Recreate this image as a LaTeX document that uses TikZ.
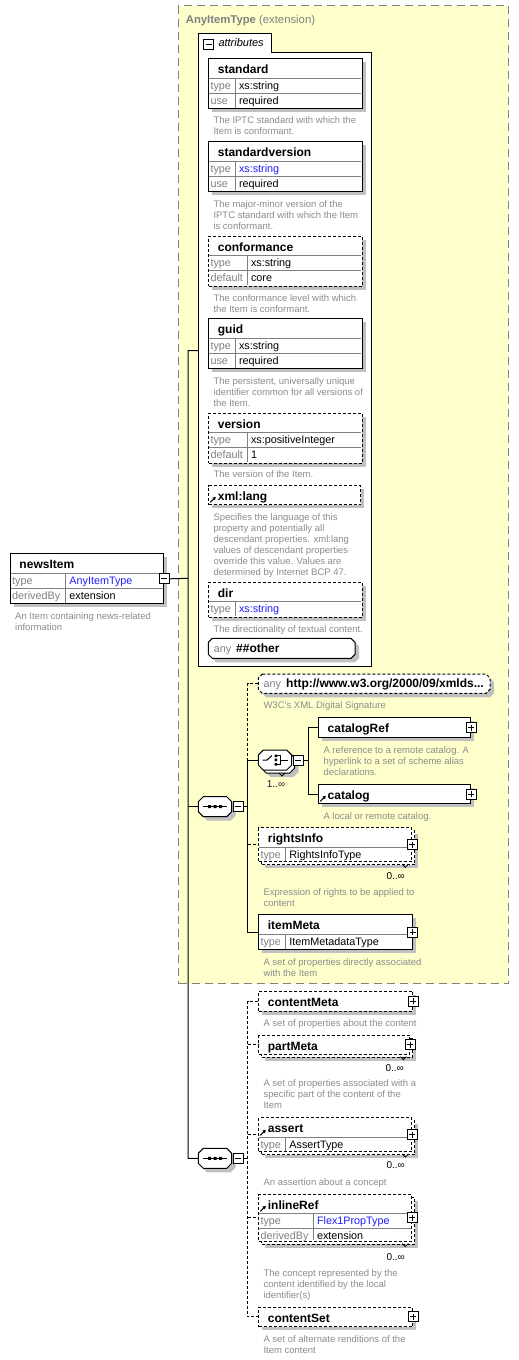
\documentclass[tikz,border=0pt]{standalone}
\usepackage{fontspec}
\setmainfont{Liberation Sans}
\usetikzlibrary{arrows.meta}
\definecolor{yel}{HTML}{FFFFCC}
\definecolor{shc}{HTML}{C0C0C0}
\definecolor{dgray}{HTML}{808080}
\definecolor{descc}{HTML}{8C8C8C}
\definecolor{lnk}{HTML}{1E1EFF}
\definecolor{occc}{HTML}{3C0A3C}
\newcommand\descfont{\fontsize{9.5}{11}\selectfont}
\newcommand\dstrut{\rule{0pt}{7.7pt}}
\tikzset{
  ebase/.style={anchor=north west, draw, fill=white, inner sep=0pt, line width=1pt},
  dsh/.style={dash pattern=on 3pt off 2pt},
  rowl/.style={draw=dgray, line width=1pt},
  ttl/.style={anchor=base west, inner sep=0pt, font=\fontsize{12}{14}\selectfont\bfseries},
  lbl/.style={anchor=base west, inner sep=0pt, font=\fontsize{10.8}{12}\selectfont, text=dgray},
  val/.style={anchor=base west, inner sep=0pt, font=\fontsize{10.8}{12}\selectfont},
  desc/.style={anchor=north west, inner sep=0pt, align=left, font=\descfont, text=descc},
  conn/.style={line width=1pt},
  opt/.style={line width=1pt, dash pattern=on 3pt off 2pt},
  pmbox/.style={draw, fill=white, line width=1pt, minimum size=10pt, inner sep=0pt},
  plus/.style={pmbox, path picture={\draw[line width=1pt] ([xshift=2pt]path picture bounding box.west) -- ([xshift=-2pt]path picture bounding box.east) ([yshift=-2pt]path picture bounding box.north) -- ([yshift=2pt]path picture bounding box.south);}},
  minus/.style={pmbox, path picture={\draw[line width=1pt] ([xshift=2pt]path picture bounding box.west) -- ([xshift=-2pt]path picture bounding box.east);}},
  occ/.style={anchor=base east, inner sep=0pt, font=\fontsize{10}{12}\selectfont},
  refarr/.style={line width=1pt, -{Triangle[length=3pt,width=3.5pt]}},
}
% element box with shadow
\newcommand\EB[6]{%
  \fill[shc] ({#2+4},{#3+4}) rectangle ({#4+4},{#5+4});
  \node[ebase,#6,minimum width={#4-#2},minimum height={#5-#3}] (#1) at (#2,#3) {};}
% stacked element box (multiple occurrences)
\newcommand\SB[6]{%
  \fill[shc] ({#2+7},{#3+7}) rectangle ({#4+7},{#5+7});
  \node[ebase,#6,minimum width={#4-#2},minimum height={#5-#3}] (#1b) at ({#2+3},{#3+3}) {};
  \node[ebase,#6,minimum width={#4-#2},minimum height={#5-#3}] (#1) at (#2,#3) {};
  \draw[line width=0.8pt] ({#4-9},{#5+3}) -- ({#4-6},{#5+6}) -- ({#4-3},{#5+3});}
% row
\newcommand\RW[8]{%
  \draw[rowl] ({#2+0.5},#5) -- ({#4-0.5},#5);
  \draw[rowl] (#3,#5) -- (#3,{#6-0.5});
  \node[lbl] (#1l) at ({#2+2},{#5+11}) {#7};
  \node[val] (#1v) at ({#3+3.5},{#5+11}) {#8};}
% octagon shadow
\newcommand\OSH[5]{%
  \fill[shc] ({#1+#5+4},{#2+4}) -- ({#3-#5+4},{#2+4}) -- ({#3+4},{#2+#5+4}) -- ({#3+4},{#4-#5+4}) -- ({#3-#5+4},{#4+4}) -- ({#1+#5+4},{#4+4}) -- ({#1+4},{#4-#5+4}) -- ({#1+4},{#2+#5+4}) -- cycle;}
% octagon with named node
\newcommand\OC[7]{%
  \draw[line width=1pt, fill=white, #7] ({#2+#6},#3) -- ({#4-#6},#3) -- (#4,{#3+#6}) -- (#4,{#5-#6}) -- ({#4-#6},#5) -- ({#2+#6},#5) -- (#2,{#5-#6}) -- (#2,{#3+#6}) -- cycle;
  \node[anchor=north west, inner sep=0pt, minimum width={#4-#2}, minimum height={#5-#3}] (#1) at (#2,#3) {};}
\begin{document}
\begin{tikzpicture}[x=1pt,y=-1pt]
\useasboundingbox (0,0) rectangle (519,1360);
\fill[white] (0,0) rectangle (519,1360);

% ---------- AnyItemType extension area
\node[anchor=north west, draw=dgray, fill=yel, line width=1pt, dash pattern=on 8pt off 5pt, inner sep=0pt, minimum width=330, minimum height=978] (anyT) at (178,5) {};
\node[anchor=base west, inner sep=0pt, font=\fontsize{11.3}{13}\selectfont, text=dgray] (anyTt) at (185.7,23.3) {\textbf{AnyItemType} (extension)};

% ---------- attributes container
\draw[line width=1pt, fill=white] (198,33.3) -- (271.7,33.3) -- (271.7,52.3) -- (371.7,52.3) -- (371.7,666) -- (198,666) -- cycle;
\node[anchor=north west, inner sep=0pt, minimum width=173.7, minimum height=613.7] (attrc) at (198,52.3) {};
\node[minus, anchor=north west] (attrm) at (203,39.3) {};
\node[anchor=base west, inner sep=0pt, font=\fontsize{11}{13}\selectfont\itshape] (attrt) at (218.3,46.7) {attributes};

% standard
\EB{standard}{208.3}{58.3}{361.7}{108.3}{}
\node[ttl] (standardt) at (217.7,73.8) {standard};
\RW{standardra}{208.3}{235.3}{361.7}{78.3}{93.3}{type}{xs:string}
\RW{standardrb}{208.3}{235.3}{361.7}{93.3}{108.3}{use}{required}
\node[desc] (standardd) at (213.3,115.8) {\dstrut The IPTC standard with which the\\Item is conformant.};

% standardversion
\EB{stdver}{208.3}{141.3}{361.7}{191.3}{}
\node[ttl] (stdvert) at (217.7,156.8) {standardversion};
\RW{stdverra}{208.3}{235.3}{361.7}{161.3}{176.3}{type}{\textcolor{lnk}{xs:string}}
\RW{stdverrb}{208.3}{235.3}{361.7}{176.3}{191.3}{use}{required}
\node[desc] (stdverd) at (213.3,199.6) {\dstrut The major-minor version of the\\IPTC standard with which the Item\\is conformant.};

% conformance
\EB{conf}{208.3}{235.7}{361.7}{285.7}{dsh}
\node[ttl] (conft) at (217.7,251.2) {conformance};
\RW{confra}{208.3}{247.3}{361.7}{255.7}{270.7}{type}{xs:string}
\RW{confrb}{208.3}{247.3}{361.7}{270.7}{285.7}{default}{core}
\node[desc] (confd) at (213.3,293.3) {\dstrut The conformance level with which\\the Item is conformant.};

% guid
\EB{guid}{208.3}{318.3}{361.7}{368.3}{}
\node[ttl] (guidt) at (217.7,333.8) {guid};
\RW{guidra}{208.3}{235.3}{361.7}{338.3}{353.3}{type}{xs:string}
\RW{guidrb}{208.3}{235.3}{361.7}{353.3}{368.3}{use}{required}
\node[desc] (guidd) at (213.3,376.3) {\dstrut The persistent, universally unique\\identifier common for all versions of\\the Item.};

% version
\EB{version}{208.3}{412.7}{361.7}{462.7}{dsh}
\node[ttl] (versiont) at (217.7,428.2) {version};
\RW{versionra}{208.3}{247.3}{361.7}{432.7}{447.7}{type}{xs:positiveInteger}
\RW{versionrb}{208.3}{247.3}{361.7}{447.7}{462.7}{default}{1}
\node[desc] (versiond) at (213.3,470) {\dstrut The version of the Item.};

% xml:lang
\EB{xmllang}{208.3}{485}{360}{504.3}{dsh}
\node[ttl] (xmllangt) at (217.7,500.5) {xml:lang};
\draw[refarr] (210.3,502.3) -- (215.8,496.8);
\node[desc] (xmllangd) at (213.3,512.3) {\dstrut Specifies the language of this\\property and potentially all\\descendant properties. xml:lang\\values of descendant properties\\override this value. Values are\\determined by Internet BCP 47.};

% dir
\EB{dir}{208.3}{581.7}{361.7}{616.7}{dsh}
\node[ttl] (dirt) at (217.7,597.2) {dir};
\RW{dirra}{208.3}{235.3}{361.7}{601.7}{616.7}{type}{\textcolor{lnk}{xs:string}}
\node[desc] (dird) at (213.3,624.3) {\dstrut The directionality of textual content.};

% any ##other
\OSH{208.3}{638.3}{355}{658.3}{4}
\OC{anyo}{208.3}{638.3}{355}{658.3}{4}{}
\node[lbl] (anyol) at (213.7,652) {any};
\node[ttl] (anyot) at (236,652.3) {\#\#other};

% ---------- newsItem
\EB{newsItem}{10}{553.3}{163.3}{603.3}{}
\node[ttl] (newsItemt) at (19.3,568.8) {newsItem};
\RW{nira}{10}{65.7}{163.3}{573.3}{588.3}{type}{\textcolor{lnk}{AnyItemType}}
\RW{nirb}{10}{65.7}{163.3}{588.3}{603.3}{derivedBy}{extension}
\node[minus, anchor=center] (nim) at (newsItem.east) {};
\node[desc] (newsItemd) at (15,611.8) {\dstrut An Item containing news-related\\information};

% ---------- sequence 1
\OSH{198.3}{796.7}{231.7}{816.7}{5}
\OC{seq1}{198.3}{796.7}{231.7}{816.7}{5}{}
\draw[line width=1pt] (203.3,806.7) -- (226.7,806.7);
\fill (208,805.2) rectangle (211,808.2) (213.5,805.2) rectangle (216.5,808.2) (219,805.2) rectangle (222,808.2);
\node[minus] (s1m) at (238.3,806.7) {};

% any xmldsig
\OSH{258.3}{674}{490}{693.3}{4}
\OC{anyx}{258.3}{674}{490}{693.3}{4}{dsh}
\node[lbl] (anyxl) at (263.3,687.3) {any};
\node[ttl] (anyxt) at (286,687.3) {http://www.w3.org/2000/09/xmlds...};
\node[desc] (anyxd) at (263.3,700.6) {\dstrut W3C's XML Digital Signature};

% choice (stacked)
\OSH{261.3}{753}{294.7}{773}{5}
\OC{chob}{261.3}{753}{294.7}{773}{5}{}
\OC{cho}{258.3}{750}{291.7}{770}{5}{}
\draw[line width=0.8pt] (279,773) -- (282,776) -- (285,773);
\draw[line width=1pt] (262.5,760) -- (267,760) -- (272,755.5);
\fill (274.5,754.5) rectangle (277,757) (274.5,758.7) rectangle (277,761.2) (274.5,763) rectangle (277,765.5);
\draw[line width=1pt] (277,755.7) -- (280.5,755.7) -- (280.5,764.3) -- (277,764.3) (280.5,760) -- (287.5,760);
\node[minus] (cm) at (298.3,760) {};
\node[anchor=base west, inner sep=0pt, font=\fontsize{10}{12}\selectfont, text=occc] (chooc) at (266.7,787.3) {1..∞};

% catalogRef
\EB{catRef}{318.3}{717.3}{470}{737.3}{}
\node[ttl] (catReft) at (327.5,732.8) {catalogRef};
\node[plus] (catRefp) at (catRef.east) {};
\node[desc] (catRefd) at (323.3,745.6) {\dstrut A reference to a remote catalog. A\\hyperlink to a set of scheme alias\\declarations.};

% catalog
\EB{cat}{318.3}{784}{470}{803.3}{}
\node[ttl] (catt) at (327.5,799.5) {catalog};
\draw[refarr] (320.3,801.3) -- (325.8,795.8);
\node[plus] (catp) at (cat.east) {};
\node[desc] (catd) at (323.3,811.3) {\dstrut A local or remote catalog.};

% rightsInfo
\SB{rinfo}{258.3}{827.3}{411.3}{861.3}{dsh}
\node[ttl] (rinfot) at (267.7,842.8) {rightsInfo};
\RW{rinfora}{258.3}{285.7}{411.3}{847.3}{861.3}{type}{RightsInfoType}
\node[plus] (rinfop) at (rinfo.east) {};
\node[occ] (rinfoo) at (405,879.3) {0..∞};
\node[desc] (rinfod) at (263.3,887.3) {\dstrut Expression of rights to be applied to\\content};

% itemMeta
\EB{imeta}{258.3}{914.3}{411.7}{949.3}{}
\node[ttl] (imetat) at (267.7,929.8) {itemMeta};
\RW{imetara}{258.3}{285.7}{411.7}{934.3}{949.3}{type}{ItemMetadataType}
\node[plus] (imetap) at (imeta.east) {};
\node[desc] (imetad) at (263.3,957.3) {\dstrut A set of properties directly associated\\with the Item};

% ---------- sequence 2
\OSH{198.3}{1148.3}{231.7}{1168.3}{5}
\OC{seq2}{198.3}{1148.3}{231.7}{1168.3}{5}{}
\draw[line width=1pt] (203.3,1158.3) -- (226.7,1158.3);
\fill (208,1156.8) rectangle (211,1159.8) (213.5,1156.8) rectangle (216.5,1159.8) (219,1156.8) rectangle (222,1159.8);
\node[minus] (s2m) at (238.3,1158.3) {};

% contentMeta
\EB{cmeta}{258.3}{990.7}{412.3}{1010.7}{dsh}
\node[ttl] (cmetat) at (267.7,1006.2) {contentMeta};
\node[plus] (cmetap) at (cmeta.east) {};
\node[desc] (cmetad) at (263.3,1018.3) {\dstrut A set of properties about the content};

% partMeta
\SB{pmeta}{258.3}{1035}{409.3}{1053.7}{dsh}
\node[ttl] (pmetat) at (267.7,1050.2) {partMeta};
\node[plus] (pmetap) at (pmeta.east) {};
\node[occ] (pmetao) at (404,1071) {0..∞};
\node[desc] (pmetad) at (263.3,1079) {\dstrut A set of properties associated with a\\specific part of the content of the\\Item};

% assert
\SB{asrt}{258.3}{1117.3}{411.3}{1151}{dsh}
\node[ttl] (asrtt) at (267.7,1132.8) {assert};
\draw[refarr] (260.3,1135.3) -- (265.8,1129.8);
\RW{asrtra}{258.3}{285.7}{411.3}{1137.3}{1151}{type}{AssertType}
\node[plus] (asrtp) at (asrt.east) {};
\node[occ] (asrto) at (405,1168.3) {0..∞};
\node[desc] (asrtd) at (263.3,1177.3) {\dstrut An assertion about a concept};

% inlineRef
\SB{iref}{258.3}{1194}{411.3}{1240.5}{dsh}
\node[ttl] (ireft) at (267.7,1209.5) {inlineRef};
\draw[refarr] (260.3,1211.3) -- (265.8,1205.8);
\RW{irefra}{258.3}{313.3}{411.3}{1213.3}{1228.3}{type}{\textcolor{lnk}{Flex1PropType}}
\RW{irefrb}{258.3}{313.3}{411.3}{1228.3}{1240.5}{derivedBy}{extension}
\node[plus] (irefp) at (iref.east) {};
\node[occ] (irefo) at (405,1260) {0..∞};
\node[desc] (irefd) at (263.3,1268.3) {\dstrut The concept represented by the\\content identified by the local\\identifier(s)};

% contentSet
\EB{cset}{258.3}{1306.7}{412.3}{1326}{dsh}
\node[ttl] (csett) at (267.7,1322) {contentSet};
\node[plus] (csetp) at (cset.east) {};
\node[desc] (csetd) at (263.3,1334.6) {\dstrut A set of alternate renditions of the\\Item content};

% ---------- connectors
\coordinate (T0) at (188,578.3);
\coordinate (Ttop) at (188,350.7);
\coordinate (Tbot) at (188,1158.3);
\draw[conn] (nim.east) -- (T0);
\draw[conn] (attrc.west |- Ttop) -- (Ttop) -- (Tbot) -- (seq2.west);
\draw[conn] (Ttop |- seq1.west) -- (seq1.west);

\coordinate (S1) at (247.7,806.7);
\draw[conn] (s1m.east) -- (S1);
\draw[opt] (anyx.west) -- (S1 |- anyx.west) -- (S1 |- cho.west);
\draw[conn] (S1 |- cho.west) -- (cho.west);
\draw[conn] (S1 |- cho.west) -- (S1 |- imeta.west) -- (imeta.west);
\draw[opt] (S1 |- rinfo.west) -- (rinfo.west);

\coordinate (C) at (308.3,760);
\draw[conn] (cm.east) -- (C);
\draw[conn] (catRef.west) -- (C |- catRef.west) -- (C |- cat.west) -- (cat.west);

\coordinate (S2) at (247.7,1158.3);
\draw[conn] (s2m.east) -- (S2);
\draw[opt] (cmeta.west) -- (S2 |- cmeta.west) -- (S2 |- cset.west) -- (cset.west);
\draw[opt] (S2 |- pmeta.west) -- (pmeta.west);
\draw[opt] (S2 |- asrt.west) -- (asrt.west);
\draw[opt] (S2 |- iref.west) -- (iref.west);
\end{tikzpicture}
\end{document}
